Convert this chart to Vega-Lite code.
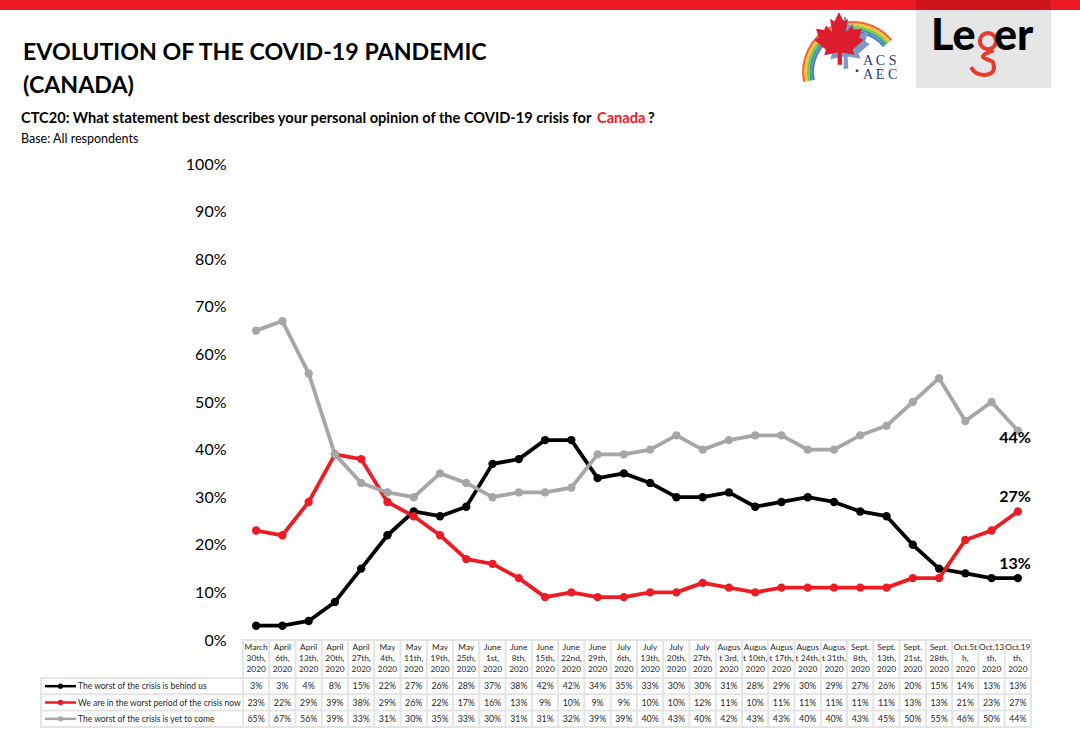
{"$schema":"https://vega.github.io/schema/vega-lite/v6.json","width":1080,"height":741,"padding":0,"autosize":"none","background":"white","config":{"view":{"stroke":null},"font":"Lato","text":{"font":"Lato"}},
"title":{"text":["EVOLUTION OF THE COVID-19 PANDEMIC","(CANADA)"],"anchor":"start","frame":"group","font":"Lato","fontSize":23.2,"fontWeight":"bold","color":"#000000","lineHeight":33,"dx":23,"dy":116,"offset":0,"baseline":"alphabetic"},
"datasets":{"rows":[
{"date":"March\n30th,\n2020","series":"The worst of the crisis is behind us","value":0.03},{"date":"April\n6th,\n2020","series":"The worst of the crisis is behind us","value":0.03},{"date":"April\n13th,\n2020","series":"The worst of the crisis is behind us","value":0.04},{"date":"April\n20th,\n2020","series":"The worst of the crisis is behind us","value":0.08},{"date":"April\n27th,\n2020","series":"The worst of the crisis is behind us","value":0.15},{"date":"May\n4th,\n2020","series":"The worst of the crisis is behind us","value":0.22},{"date":"May\n11th,\n2020","series":"The worst of the crisis is behind us","value":0.27},{"date":"May\n19th,\n2020","series":"The worst of the crisis is behind us","value":0.26},{"date":"May\n25th,\n2020","series":"The worst of the crisis is behind us","value":0.28},{"date":"June\n1st,\n2020","series":"The worst of the crisis is behind us","value":0.37},{"date":"June\n8th,\n2020","series":"The worst of the crisis is behind us","value":0.38},{"date":"June\n15th,\n2020","series":"The worst of the crisis is behind us","value":0.42},{"date":"June\n22nd,\n2020","series":"The worst of the crisis is behind us","value":0.42},{"date":"June\n29th,\n2020","series":"The worst of the crisis is behind us","value":0.34},{"date":"July\n6th,\n2020","series":"The worst of the crisis is behind us","value":0.35},{"date":"July\n13th,\n2020","series":"The worst of the crisis is behind us","value":0.33},{"date":"July\n20th,\n2020","series":"The worst of the crisis is behind us","value":0.30},{"date":"July\n27th,\n2020","series":"The worst of the crisis is behind us","value":0.30},{"date":"Augus\nt 3rd,\n2020","series":"The worst of the crisis is behind us","value":0.31},{"date":"Augus\nt 10th,\n2020","series":"The worst of the crisis is behind us","value":0.28},{"date":"Augus\nt 17th,\n2020","series":"The worst of the crisis is behind us","value":0.29},{"date":"Augus\nt 24th,\n2020","series":"The worst of the crisis is behind us","value":0.30},{"date":"Augus\nt 31th,\n2020","series":"The worst of the crisis is behind us","value":0.29},{"date":"Sept.\n8th,\n2020","series":"The worst of the crisis is behind us","value":0.27},{"date":"Sept.\n13th,\n2020","series":"The worst of the crisis is behind us","value":0.26},{"date":"Sept.\n21st,\n2020","series":"The worst of the crisis is behind us","value":0.20},{"date":"Sept.\n28th,\n2020","series":"The worst of the crisis is behind us","value":0.15},{"date":"Oct.5t\nh,\n2020","series":"The worst of the crisis is behind us","value":0.14},{"date":"Oct.13\nth,\n2020","series":"The worst of the crisis is behind us","value":0.13},{"date":"Oct.19\nth,\n2020","series":"The worst of the crisis is behind us","value":0.13},
{"date":"March\n30th,\n2020","series":"We are in the worst period of the crisis now","value":0.23},{"date":"April\n6th,\n2020","series":"We are in the worst period of the crisis now","value":0.22},{"date":"April\n13th,\n2020","series":"We are in the worst period of the crisis now","value":0.29},{"date":"April\n20th,\n2020","series":"We are in the worst period of the crisis now","value":0.39},{"date":"April\n27th,\n2020","series":"We are in the worst period of the crisis now","value":0.38},{"date":"May\n4th,\n2020","series":"We are in the worst period of the crisis now","value":0.29},{"date":"May\n11th,\n2020","series":"We are in the worst period of the crisis now","value":0.26},{"date":"May\n19th,\n2020","series":"We are in the worst period of the crisis now","value":0.22},{"date":"May\n25th,\n2020","series":"We are in the worst period of the crisis now","value":0.17},{"date":"June\n1st,\n2020","series":"We are in the worst period of the crisis now","value":0.16},{"date":"June\n8th,\n2020","series":"We are in the worst period of the crisis now","value":0.13},{"date":"June\n15th,\n2020","series":"We are in the worst period of the crisis now","value":0.09},{"date":"June\n22nd,\n2020","series":"We are in the worst period of the crisis now","value":0.10},{"date":"June\n29th,\n2020","series":"We are in the worst period of the crisis now","value":0.09},{"date":"July\n6th,\n2020","series":"We are in the worst period of the crisis now","value":0.09},{"date":"July\n13th,\n2020","series":"We are in the worst period of the crisis now","value":0.10},{"date":"July\n20th,\n2020","series":"We are in the worst period of the crisis now","value":0.10},{"date":"July\n27th,\n2020","series":"We are in the worst period of the crisis now","value":0.12},{"date":"Augus\nt 3rd,\n2020","series":"We are in the worst period of the crisis now","value":0.11},{"date":"Augus\nt 10th,\n2020","series":"We are in the worst period of the crisis now","value":0.10},{"date":"Augus\nt 17th,\n2020","series":"We are in the worst period of the crisis now","value":0.11},{"date":"Augus\nt 24th,\n2020","series":"We are in the worst period of the crisis now","value":0.11},{"date":"Augus\nt 31th,\n2020","series":"We are in the worst period of the crisis now","value":0.11},{"date":"Sept.\n8th,\n2020","series":"We are in the worst period of the crisis now","value":0.11},{"date":"Sept.\n13th,\n2020","series":"We are in the worst period of the crisis now","value":0.11},{"date":"Sept.\n21st,\n2020","series":"We are in the worst period of the crisis now","value":0.13},{"date":"Sept.\n28th,\n2020","series":"We are in the worst period of the crisis now","value":0.13},{"date":"Oct.5t\nh,\n2020","series":"We are in the worst period of the crisis now","value":0.21},{"date":"Oct.13\nth,\n2020","series":"We are in the worst period of the crisis now","value":0.23},{"date":"Oct.19\nth,\n2020","series":"We are in the worst period of the crisis now","value":0.27},
{"date":"March\n30th,\n2020","series":"The worst of the crisis is yet to come","value":0.65},{"date":"April\n6th,\n2020","series":"The worst of the crisis is yet to come","value":0.67},{"date":"April\n13th,\n2020","series":"The worst of the crisis is yet to come","value":0.56},{"date":"April\n20th,\n2020","series":"The worst of the crisis is yet to come","value":0.39},{"date":"April\n27th,\n2020","series":"The worst of the crisis is yet to come","value":0.33},{"date":"May\n4th,\n2020","series":"The worst of the crisis is yet to come","value":0.31},{"date":"May\n11th,\n2020","series":"The worst of the crisis is yet to come","value":0.30},{"date":"May\n19th,\n2020","series":"The worst of the crisis is yet to come","value":0.35},{"date":"May\n25th,\n2020","series":"The worst of the crisis is yet to come","value":0.33},{"date":"June\n1st,\n2020","series":"The worst of the crisis is yet to come","value":0.30},{"date":"June\n8th,\n2020","series":"The worst of the crisis is yet to come","value":0.31},{"date":"June\n15th,\n2020","series":"The worst of the crisis is yet to come","value":0.31},{"date":"June\n22nd,\n2020","series":"The worst of the crisis is yet to come","value":0.32},{"date":"June\n29th,\n2020","series":"The worst of the crisis is yet to come","value":0.39},{"date":"July\n6th,\n2020","series":"The worst of the crisis is yet to come","value":0.39},{"date":"July\n13th,\n2020","series":"The worst of the crisis is yet to come","value":0.40},{"date":"July\n20th,\n2020","series":"The worst of the crisis is yet to come","value":0.43},{"date":"July\n27th,\n2020","series":"The worst of the crisis is yet to come","value":0.40},{"date":"Augus\nt 3rd,\n2020","series":"The worst of the crisis is yet to come","value":0.42},{"date":"Augus\nt 10th,\n2020","series":"The worst of the crisis is yet to come","value":0.43},{"date":"Augus\nt 17th,\n2020","series":"The worst of the crisis is yet to come","value":0.43},{"date":"Augus\nt 24th,\n2020","series":"The worst of the crisis is yet to come","value":0.40},{"date":"Augus\nt 31th,\n2020","series":"The worst of the crisis is yet to come","value":0.40},{"date":"Sept.\n8th,\n2020","series":"The worst of the crisis is yet to come","value":0.43},{"date":"Sept.\n13th,\n2020","series":"The worst of the crisis is yet to come","value":0.45},{"date":"Sept.\n21st,\n2020","series":"The worst of the crisis is yet to come","value":0.50},{"date":"Sept.\n28th,\n2020","series":"The worst of the crisis is yet to come","value":0.55},{"date":"Oct.5t\nh,\n2020","series":"The worst of the crisis is yet to come","value":0.46},{"date":"Oct.13\nth,\n2020","series":"The worst of the crisis is yet to come","value":0.50},{"date":"Oct.19\nth,\n2020","series":"The worst of the crisis is yet to come","value":0.44}],
"keys":[{"series":"The worst of the crisis is behind us","column":"legend"},{"series":"We are in the worst period of the crisis now","column":"legend"},{"series":"The worst of the crisis is yet to come","column":"legend"}]},
"resolve":{"scale":{"x":"independent","y":"independent","color":"independent","radius":"independent","radius2":"independent"},"axis":{"x":"independent","y":"independent"}},
"layer":[
{"data":{"values":[{"item":"bar"}]},"mark":{"type":"rect","color":"#ed1c24"},"encoding":{"x":{"field":"item","type":"nominal","axis":null,"scale":{"type":"band","range":[0,1080],"paddingInner":0,"paddingOuter":0}},"y":{"field":"item","type":"nominal","axis":null,"scale":{"type":"band","range":[0,10],"paddingInner":0,"paddingOuter":0}}}},
{"data":{"values":[{"item":"barDark"}]},"mark":{"type":"rect","color":"#d0141a"},"encoding":{"x":{"field":"item","type":"nominal","axis":null,"scale":{"type":"band","range":[916,1051],"paddingInner":0,"paddingOuter":0}},"y":{"field":"item","type":"nominal","axis":null,"scale":{"type":"band","range":[0,10],"paddingInner":0,"paddingOuter":0}}}},
{"data":{"values":[{"item":"panel"}]},"mark":{"type":"rect","color":"#e6e6e6"},"encoding":{"x":{"field":"item","type":"nominal","axis":null,"scale":{"type":"band","range":[916,1051],"paddingInner":0,"paddingOuter":0}},"y":{"field":"item","type":"nominal","axis":null,"scale":{"type":"band","range":[10,88],"paddingInner":0,"paddingOuter":0}}}},
{"data":{"values":[{"item":"Le"}]},"mark":{"type":"text","font":"Lato","fontSize":43,"fontWeight":900,"align":"left","baseline":"middle","color":"#000000"},"encoding":{"text":{"field":"item"},"x":{"field":"item","type":"nominal","bandPosition":0,"axis":null,"scale":{"type":"band","range":[931,976],"paddingInner":0,"paddingOuter":0}},"y":{"field":"item","type":"nominal","axis":null,"scale":{"type":"band","range":[20,54],"paddingInner":0,"paddingOuter":0}}}},
{"data":{"values":[{"item":"g"}]},"mark":{"type":"point","filled":false,"opacity":1,"stroke":"#e8392c","strokeWidth":4,"size":2704,"shape":"M0.23,-0.38 A0.31,0.31 0 1 1 -0.39,-0.38 A0.31,0.31 0 1 1 0.23,-0.38 M0.12,-0.04 C0.05,0.05 -0.3,0.1 -0.27,0.23 C-0.25,0.33 0.15,0.35 0.12,0.46 C0.2,0.7 0.15,0.9 -0.2,0.92 C-0.5,0.93 -0.65,0.78 -0.73,0.62"},"encoding":{"x":{"field":"item","type":"nominal","axis":null,"scale":{"type":"band","range":[964,1016],"paddingInner":0,"paddingOuter":0}},"y":{"field":"item","type":"nominal","axis":null,"scale":{"type":"band","range":[25,77],"paddingInner":0,"paddingOuter":0}}}},
{"data":{"values":[{"item":"er"}]},"mark":{"type":"text","font":"Lato","fontSize":43,"fontWeight":900,"align":"left","baseline":"middle","color":"#000000"},"encoding":{"text":{"field":"item"},"x":{"field":"item","type":"nominal","bandPosition":0,"axis":null,"scale":{"type":"band","range":[994,1033],"paddingInner":0,"paddingOuter":0}},"y":{"field":"item","type":"nominal","axis":null,"scale":{"type":"band","range":[20,54],"paddingInner":0,"paddingOuter":0}}}},
{"data":{"values":[{"item":"rainbow","ring":"r","inner":4,"outer":5},{"item":"rainbow","ring":"o","inner":3,"outer":4},{"item":"rainbow","ring":"y","inner":2,"outer":3},{"item":"rainbow","ring":"g","inner":1,"outer":2},{"item":"rainbow","ring":"b","inner":0,"outer":1}]},"mark":{"type":"arc","theta":-1.77,"theta2":0.88},"encoding":{"x":{"field":"item","type":"nominal","axis":null,"scale":{"type":"band","range":[852,854],"paddingInner":0,"paddingOuter":0}},"y":{"field":"item","type":"nominal","axis":null,"scale":{"type":"band","range":[71,73],"paddingInner":0,"paddingOuter":0}},"radius":{"field":"outer","type":"quantitative","scale":{"type":"linear","domain":[0,5],"range":[39,51],"zero":false}},"radius2":{"field":"inner"},"color":{"field":"ring","type":"nominal","legend":null,"scale":{"domain":["r","o","y","g","b"],"range":["#ef6a3a","#f7c531","#8cc63f","#33a3a0","#5b7fc7"]}}}},
{"data":{"values":[{"item":"leafShadow"}]},"mark":{"type":"point","filled":true,"opacity":1,"color":"#7d9ac6","size":2916,"shape":"M0,-1 L0.17,-0.65 L0.33,-0.75 L0.25,-0.25 L0.48,-0.5 L0.55,-0.33 L0.85,-0.38 L0.75,-0.05 L0.92,0.03 L0.5,0.4 L0.58,0.58 L0.1,0.5 L0.12,0.95 L-0.05,0.95 L-0.05,0.5 L-0.55,0.6 L-0.48,0.4 L-0.92,0.03 L-0.75,-0.05 L-0.85,-0.38 L-0.55,-0.33 L-0.48,-0.5 L-0.25,-0.25 L-0.33,-0.75 L-0.17,-0.65 Z"},"encoding":{"x":{"field":"item","type":"nominal","axis":null,"scale":{"type":"band","range":[818,872],"paddingInner":0,"paddingOuter":0}},"y":{"field":"item","type":"nominal","axis":null,"scale":{"type":"band","range":[16,70],"paddingInner":0,"paddingOuter":0}}}},
{"data":{"values":[{"item":"leaf"}]},"mark":{"type":"point","filled":true,"opacity":1,"color":"#dd1c2f","size":2916,"shape":"M0,-1 L0.17,-0.65 L0.33,-0.75 L0.25,-0.25 L0.48,-0.5 L0.55,-0.33 L0.85,-0.38 L0.75,-0.05 L0.92,0.03 L0.5,0.4 L0.58,0.58 L0.1,0.5 L0.12,0.95 L-0.05,0.95 L-0.05,0.5 L-0.55,0.6 L-0.48,0.4 L-0.92,0.03 L-0.75,-0.05 L-0.85,-0.38 L-0.55,-0.33 L-0.48,-0.5 L-0.25,-0.25 L-0.33,-0.75 L-0.17,-0.65 Z"},"encoding":{"x":{"field":"item","type":"nominal","axis":null,"scale":{"type":"band","range":[812,866],"paddingInner":0,"paddingOuter":0}},"y":{"field":"item","type":"nominal","axis":null,"scale":{"type":"band","range":[12,66],"paddingInner":0,"paddingOuter":0}}}},
{"data":{"values":[{"item":"A C S"},{"item":"A E C"}]},"mark":{"type":"text","font":"Liberation Serif","fontSize":14,"align":"left","baseline":"middle","color":"#1f3a7a"},"encoding":{"text":{"field":"item"},"x":{"datum":"acs","type":"nominal","bandPosition":0,"axis":null,"scale":{"type":"band","domain":["acs"],"range":[863,905],"paddingInner":0,"paddingOuter":0}},"y":{"field":"item","type":"nominal","sort":null,"axis":null,"scale":{"type":"band","range":[54,82],"paddingInner":0,"paddingOuter":0}}}},
{"data":{"values":[{"item":"."}]},"mark":{"type":"text","font":"Liberation Sans","fontSize":16,"fontWeight":"bold","align":"center","baseline":"alphabetic","color":"#1f3a7a"},"encoding":{"text":{"field":"item"},"x":{"field":"item","type":"nominal","axis":null,"scale":{"type":"band","range":[855,859],"paddingInner":0,"paddingOuter":0}},"y":{"field":"item","type":"nominal","axis":null,"scale":{"type":"band","range":[70,73],"paddingInner":0,"paddingOuter":0}}}},
{"data":{"values":[{"item":"CTC20: What statement best describes your personal opinion of the COVID-19 crisis for"}]},"mark":{"type":"text","font":"Lato","fontSize":14.6,"fontWeight":"bold","align":"left","baseline":"middle","color":"#000000"},"encoding":{"text":{"field":"item"},"x":{"field":"item","type":"nominal","bandPosition":0,"axis":null,"scale":{"type":"band","range":[21,593],"paddingInner":0,"paddingOuter":0}},"y":{"field":"item","type":"nominal","axis":null,"scale":{"type":"band","range":[110,128],"paddingInner":0,"paddingOuter":0}}}},
{"data":{"values":[{"item":"Canada"}]},"mark":{"type":"text","font":"Lato","fontSize":14.6,"fontWeight":"bold","align":"left","baseline":"middle","color":"#ed1c24"},"encoding":{"text":{"field":"item"},"x":{"field":"item","type":"nominal","bandPosition":0,"axis":null,"scale":{"type":"band","range":[597,645],"paddingInner":0,"paddingOuter":0}},"y":{"field":"item","type":"nominal","axis":null,"scale":{"type":"band","range":[110,128],"paddingInner":0,"paddingOuter":0}}}},
{"data":{"values":[{"item":"?"}]},"mark":{"type":"text","font":"Lato","fontSize":14.6,"fontWeight":"bold","align":"left","baseline":"middle","color":"#000000"},"encoding":{"text":{"field":"item"},"x":{"field":"item","type":"nominal","bandPosition":0,"axis":null,"scale":{"type":"band","range":[648,658],"paddingInner":0,"paddingOuter":0}},"y":{"field":"item","type":"nominal","axis":null,"scale":{"type":"band","range":[110,128],"paddingInner":0,"paddingOuter":0}}}},
{"data":{"values":[{"item":"Base: All respondents"}]},"mark":{"type":"text","font":"Lato","fontSize":12.5,"align":"left","baseline":"middle","color":"#000000"},"encoding":{"text":{"field":"item"},"x":{"field":"item","type":"nominal","bandPosition":0,"axis":null,"scale":{"type":"band","range":[21,140],"paddingInner":0,"paddingOuter":0}},"y":{"field":"item","type":"nominal","axis":null,"scale":{"type":"band","range":[130,147],"paddingInner":0,"paddingOuter":0}}}},
{"data":{"name":"rows"},"mark":{"type":"line","strokeWidth":3.8,"strokeJoin":"round"},"encoding":{"x":{"field":"date","type":"nominal","sort":null,"axis":null,"scale":{"type":"band","range":[243,1031],"paddingInner":0,"paddingOuter":0}},"y":{"field":"value","type":"quantitative","scale":{"domain":[0,1],"range":[640,164]},"axis":{"orient":"left","values":[0,0.1,0.2,0.3,0.4,0.5,0.6,0.7,0.8,0.9,1],"format":".0%","offset":-226,"domain":false,"ticks":false,"grid":false,"title":null,"labelPadding":0,"labelFont":"Lato","labelFontSize":16,"labelColor":"#000000"}},"color":{"field":"series","type":"nominal","legend":null,"scale":{"domain":["The worst of the crisis is behind us","We are in the worst period of the crisis now","The worst of the crisis is yet to come"],"range":["#000000","#ed1c24","#a6a6a6"]}}}},
{"data":{"name":"rows"},"mark":{"type":"point","filled":true,"opacity":1,"size":70},"encoding":{"x":{"field":"date","type":"nominal","sort":null,"axis":null,"scale":{"type":"band","range":[243,1031],"paddingInner":0,"paddingOuter":0}},"y":{"field":"value","type":"quantitative","axis":null,"scale":{"domain":[0,1],"range":[640,164]}},"color":{"field":"series","type":"nominal","legend":null,"scale":{"domain":["The worst of the crisis is behind us","We are in the worst period of the crisis now","The worst of the crisis is yet to come"],"range":["#000000","#ed1c24","#a6a6a6"]}}}},
{"data":{"name":"rows"},"transform":[{"filter":"datum.date==='Oct.19\\nth,\\n2020' && datum.series!=='The worst of the crisis is yet to come'"}],"mark":{"type":"text","font":"Lato","fontSize":16,"fontWeight":"bold","dx":-3,"dy":-14,"color":"#000000"},"encoding":{"text":{"field":"value","type":"quantitative","format":".0%"},"x":{"field":"date","type":"nominal","axis":null,"scale":{"type":"band","domain":["Oct.19\nth,\n2020"],"range":[1005,1031],"paddingInner":0,"paddingOuter":0}},"y":{"field":"value","type":"quantitative","axis":null,"scale":{"domain":[0,1],"range":[640,164]}}}},
{"data":{"name":"rows"},"transform":[{"filter":"datum.date==='Oct.19\\nth,\\n2020' && datum.series==='The worst of the crisis is yet to come'"}],"mark":{"type":"text","font":"Lato","fontSize":16,"fontWeight":"bold","dx":-3,"dy":7,"color":"#000000"},"encoding":{"text":{"field":"value","type":"quantitative","format":".0%"},"x":{"field":"date","type":"nominal","axis":null,"scale":{"type":"band","domain":["Oct.19\nth,\n2020"],"range":[1005,1031],"paddingInner":0,"paddingOuter":0}},"y":{"field":"value","type":"quantitative","axis":null,"scale":{"domain":[0,1],"range":[640,164]}}}},
{"data":{"name":"rows"},"transform":[{"filter":"datum.series==='The worst of the crisis is behind us'"}],"mark":{"type":"rect","fill":"white","stroke":"#e4e4e4","strokeWidth":1.8},"encoding":{"x":{"field":"date","type":"nominal","sort":null,"axis":null,"scale":{"type":"band","range":[243,1031],"paddingInner":0,"paddingOuter":0}},"y":{"datum":"header","type":"nominal","axis":null,"scale":{"type":"band","domain":["header"],"range":[640,678],"paddingInner":0,"paddingOuter":0}}}},
{"data":{"name":"rows"},"mark":{"type":"rect","fill":"white","stroke":"#e4e4e4","strokeWidth":1.8},"encoding":{"x":{"field":"date","type":"nominal","sort":null,"axis":null,"scale":{"type":"band","range":[243,1031],"paddingInner":0,"paddingOuter":0}},"y":{"field":"series","type":"nominal","sort":null,"axis":null,"scale":{"type":"band","range":[678,727],"paddingInner":0,"paddingOuter":0}}}},
{"data":{"name":"rows"},"transform":[{"filter":"datum.series==='The worst of the crisis is behind us'"}],"mark":{"type":"text","font":"Lato","fontSize":8.3,"lineBreak":"\n","lineHeight":11,"baseline":"middle","dy":-11,"color":"#262626"},"encoding":{"text":{"field":"date"},"x":{"field":"date","type":"nominal","sort":null,"axis":null,"scale":{"type":"band","range":[243,1031],"paddingInner":0,"paddingOuter":0}},"y":{"datum":"header","type":"nominal","axis":null,"scale":{"type":"band","domain":["header"],"range":[640,678],"paddingInner":0,"paddingOuter":0}}}},
{"data":{"name":"rows"},"mark":{"type":"text","font":"Lato","fontSize":8.8,"baseline":"middle","color":"#262626"},"encoding":{"text":{"field":"value","type":"quantitative","format":".0%"},"x":{"field":"date","type":"nominal","sort":null,"axis":null,"scale":{"type":"band","range":[243,1031],"paddingInner":0,"paddingOuter":0}},"y":{"field":"series","type":"nominal","sort":null,"axis":null,"scale":{"type":"band","range":[678,727],"paddingInner":0,"paddingOuter":0}}}},
{"data":{"name":"keys"},"mark":{"type":"rect","fill":"white","stroke":"#e4e4e4","strokeWidth":1.8},"encoding":{"x":{"field":"column","type":"nominal","axis":null,"scale":{"type":"band","range":[41,243],"paddingInner":0,"paddingOuter":0}},"y":{"field":"series","type":"nominal","sort":null,"axis":null,"scale":{"type":"band","range":[678,727],"paddingInner":0,"paddingOuter":0}}}},
{"data":{"name":"keys"},"mark":{"type":"text","font":"Lato","fontSize":8.5,"align":"left","baseline":"middle","color":"#262626"},"encoding":{"text":{"field":"series"},"x":{"field":"column","type":"nominal","bandPosition":0,"axis":null,"scale":{"type":"band","range":[78,243],"paddingInner":0,"paddingOuter":0}},"y":{"field":"series","type":"nominal","sort":null,"axis":null,"scale":{"type":"band","range":[678,727],"paddingInner":0,"paddingOuter":0}}}},
{"data":{"name":"keys"},"mark":{"type":"rule","strokeWidth":2.5},"encoding":{"x":{"datum":0,"type":"quantitative","axis":null,"scale":{"domain":[0,1],"range":[45,76]}},"x2":{"datum":1},"y":{"field":"series","type":"nominal","sort":null,"axis":null,"scale":{"type":"band","range":[678,727],"paddingInner":0,"paddingOuter":0}},"color":{"field":"series","type":"nominal","legend":null,"scale":{"domain":["The worst of the crisis is behind us","We are in the worst period of the crisis now","The worst of the crisis is yet to come"],"range":["#000000","#ed1c24","#a6a6a6"]}}}},
{"data":{"name":"keys"},"mark":{"type":"point","filled":true,"opacity":1,"size":28},"encoding":{"x":{"datum":0.5,"type":"quantitative","axis":null,"scale":{"domain":[0,1],"range":[45,76]}},"y":{"field":"series","type":"nominal","sort":null,"axis":null,"scale":{"type":"band","range":[678,727],"paddingInner":0,"paddingOuter":0}},"color":{"field":"series","type":"nominal","legend":null,"scale":{"domain":["The worst of the crisis is behind us","We are in the worst period of the crisis now","The worst of the crisis is yet to come"],"range":["#000000","#ed1c24","#a6a6a6"]}}}}
]}
